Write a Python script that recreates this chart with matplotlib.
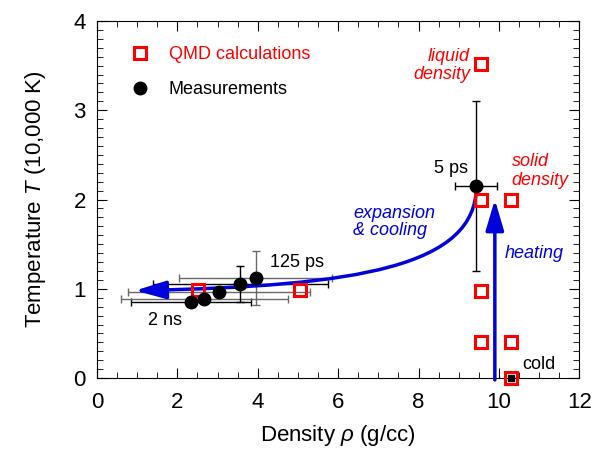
import matplotlib.pyplot as plt
from matplotlib.path import Path
from matplotlib.patches import FancyArrowPatch
from matplotlib.ticker import MultipleLocator

plt.rcParams['font.family'] = ['Liberation Sans', 'DejaVu Sans']
plt.rcParams['mathtext.fontset'] = 'custom'
plt.rcParams['mathtext.it'] = 'Liberation Sans:italic'
plt.rcParams['mathtext.rm'] = 'Liberation Sans'

# QMD calculations (density g/cc, temperature in 10,000 K)
qmd_rho = [9.55, 9.55, 10.3, 9.55, 9.55, 10.3, 10.3, 2.52, 5.05]
qmd_T = [3.52, 2.0, 2.0, 0.98, 0.40, 0.40, 0.0, 0.99, 0.99]

# measurements with error bars
meas_rho = [2.34, 2.67, 3.04, 3.57, 3.95, 9.44]
meas_T = [0.85, 0.89, 0.96, 1.05, 1.12, 2.15]
meas_xerr = [1.5, 2.08, 2.26, 2.17, 1.9, 0.52]
meas_yerr = [0.02, 0.05, 0.03, 0.2, 0.3, 0.95]
meas_ecolor = ['black', 'dimgray', 'dimgray', 'black', 'dimgray', 'black']

cold_rho = [10.3]
cold_T = [0.0]

# expansion & cooling path (bezier control points) and heating path
cooling_x = [9.44, 9.44, 6.5, 0.95]
cooling_y = [2.15, 1.25, 1.03, 0.98]
heating_x = [9.9, 9.9]
heating_y = [-0.02, 2.0]

fig, ax = plt.subplots(figsize=(5.99, 4.55), dpi=100)
fig.subplots_adjust(left=0.162, right=0.967, top=0.954, bottom=0.169)

for x, y, xe, ye, c in zip(meas_rho, meas_T, meas_xerr, meas_yerr, meas_ecolor):
    ax.errorbar(x, y, xerr=xe, yerr=ye, fmt='none', ecolor=c, elinewidth=1,
                capsize=3, capthick=1, zorder=2)

head = '-|>,head_length=0.85,head_width=0.25'
cool = Path(list(zip(cooling_x, cooling_y)),
            [Path.MOVETO, Path.CURVE4, Path.CURVE4, Path.CURVE4])
ax.add_patch(FancyArrowPatch(path=cool, arrowstyle=head,
                             mutation_scale=22, color='#0000dd', lw=2.5, zorder=3))
ax.annotate('', xy=(heating_x[1], heating_y[1]), xytext=(heating_x[0], heating_y[0]),
            arrowprops=dict(arrowstyle=head, mutation_scale=22, color='#0000dd', lw=2.5,
                            shrinkA=0, shrinkB=0), zorder=3)

ax.plot(qmd_rho, qmd_T, 's', ms=9, mfc='none', mec='red', mew=2.2,
        label='QMD calculations', clip_on=False, zorder=4)
ax.plot(meas_rho, meas_T, 'o', ms=9, color='black', label='Measurements', zorder=5)
ax.plot(cold_rho, cold_T, 's', ms=5, color='black', clip_on=False, zorder=5)

ax.set_xlim(0, 12)
ax.set_ylim(0, 4)
ax.xaxis.set_major_locator(MultipleLocator(2))
ax.xaxis.set_minor_locator(MultipleLocator(0.5))
ax.yaxis.set_major_locator(MultipleLocator(1))
ax.yaxis.set_minor_locator(MultipleLocator(0.1))
ax.tick_params(which='both', direction='in', top=True, right=True, labelsize=16)
ax.tick_params(which='major', length=7, pad=8)
ax.tick_params(axis='x', which='major', pad=10)
ax.tick_params(which='minor', length=4)
ax.set_xlabel(r'Density $\rho$ (g/cc)', fontsize=16, labelpad=7)
ax.set_ylabel(r'Temperature $T$ (10,000 K)', fontsize=16, labelpad=18)

leg = ax.legend(loc='upper left', bbox_to_anchor=(0.018, 0.975), frameon=False,
                fontsize=13, handletextpad=0.6, labelspacing=1.0, numpoints=1)
leg.get_texts()[0].set_color('red')

ax.text(9.28, 3.5, 'liquid\ndensity', color='red', style='italic', fontsize=13,
        ha='right', va='center', linespacing=1.1)
ax.text(10.32, 2.32, 'solid\ndensity', color='red', style='italic', fontsize=13,
        ha='left', va='center', linespacing=1.1)
ax.text(10.15, 1.40, 'heating', color='#0000dd', style='italic', fontsize=13,
        ha='left', va='center')
ax.text(6.37, 1.75, 'expansion\n& cooling', color='#0000dd', style='italic', fontsize=13,
        ha='left', va='center', linespacing=1.0)
ax.text(9.22, 2.35, '5 ps', fontsize=13, ha='right', va='center')
ax.text(4.30, 1.30, '125 ps', fontsize=13, ha='left', va='center')
ax.text(1.27, 0.65, '2 ns', fontsize=13, ha='left', va='center')
ax.text(10.57, 0.15, 'cold', fontsize=13, ha='left', va='center')

plt.savefig('out.png', dpi=100)
